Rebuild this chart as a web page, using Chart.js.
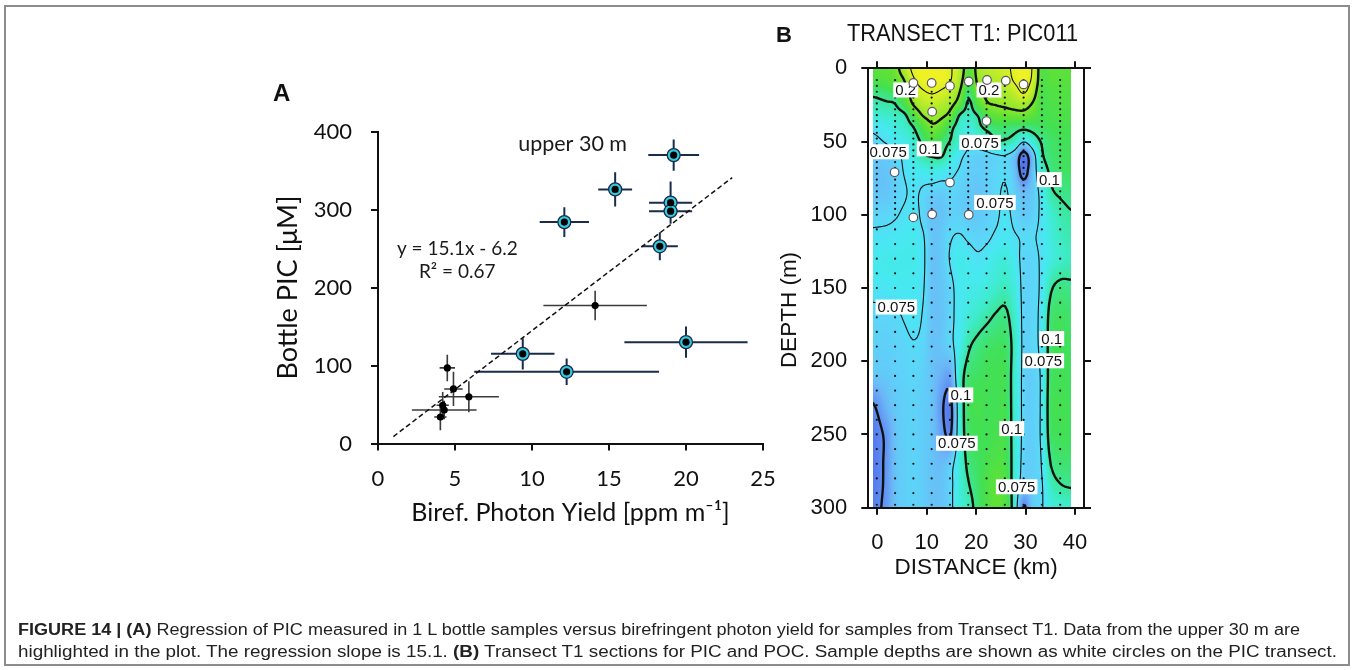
<!DOCTYPE html>
<html>
<head>
<meta charset="utf-8">
<script src="https://cdn.jsdelivr.net/npm/chart.js@4.4.1/dist/chart.umd.min.js"></script>
<style>
  html, body { margin: 0; padding: 0; background: #fff; }
  #page { position: relative; width: 1354px; height: 670px; overflow: hidden; background: #fff; }
  #page canvas { position: absolute; left: 0; top: 0; }
  .frame { position: absolute; left: 4px; top: 5px; width: 1346px; height: 661px; border: 2px solid #8c8c8c; box-sizing: border-box; }
  .letter { position: absolute; font-family: "Liberation Sans", Arial, sans-serif; font-weight: bold; color: #111; }
  .fit { position: absolute; white-space: nowrap; transform-origin: 0 50%; color: #111; }
  .caption { font-family: "Liberation Sans Narrow", "Liberation Sans", Arial, sans-serif; font-size: 16px; line-height: 16px; color: #222; left: 18px; }
  .title-b { font-family: "Liberation Sans", Arial, sans-serif; font-size: 23px; line-height: 23px; left: 847px; top: 22px; }
  .ytitle-b { position: absolute; width: 200px; text-align: center; font-family: "Liberation Sans", Arial, sans-serif; font-size: 22.5px; line-height: 24px; color: #111; transform: rotate(-90deg); }
</style>
</head>
<body>
<div id="page">
  <div class="frame"></div>
  <canvas id="chartA" width="1354" height="670"></canvas>
  <canvas id="chartB" width="1354" height="670"></canvas>
  <div class="letter" style="left:273px; top:81px; font-size:24px; line-height:24px;">A</div>
  <div class="letter" style="left:776px; top:24px; font-size:22px; line-height:22px;">B</div>
  <div class="fit title-b" data-width="231">TRANSECT T1: PIC011</div>
  <div class="ytitle-b" style="left:689px; top:298px;">DEPTH (m)</div>
  <div class="fit caption" data-width="1282" style="top:622px;"><b>FIGURE 14 | (A)</b> Regression of PIC measured in 1 L bottle samples versus birefringent photon yield for samples from Transect T1. Data from the upper 30 m are</div>
  <div class="fit caption" data-width="1319" style="top:644px;">highlighted in the plot. The regression slope is 15.1. <b>(B)</b> Transect T1 sections for PIC and POC. Sample depths are shown as white circles on the PIC transect.</div>
</div>

<script>
// ---------- Panel A: bottle PIC vs birefringent photon yield ----------
const yieldTicks = [0, 5, 10, 15, 20, 25];
const picTicks = [0, 100, 200, 300, 400];

// samples from the upper 30 m (highlighted)
const upperYield    = [19.2, 15.4, 19.0, 19.0, 12.1, 18.3, 20.0, 9.4, 12.25];
const upperPIC      = [370, 326, 309, 298, 284, 253, 130, 115, 92];
const upperYieldErr = [1.65, 1.1, 1.4, 1.4, 1.6, 1.17, 4.0, 2.06, 6.0];
const upperPICErr   = [20, 22, 27, 16, 19, 18, 20, 20, 17];

// deeper samples
const deepYield    = [14.1, 4.5, 4.9, 5.9, 4.2, 4.3, 4.05];
const deepPIC      = [177, 97, 70, 60, 49, 43, 34];
const deepYieldErr = [3.36, 0.5, 0.6, 1.95, 0.4, 2.1, 0.4];
const deepPICErr   = [19, 17, 22, 20, 17, 12, 17];

// regression y = 15.1x - 6.2 over the fitted range
const fitSlope = 15.1;
const fitIntercept = -6.2;
const fitRange = [1, 23];

// ---------- Panel B: PIC section along transect T1 ----------
const distTicks = [0, 10, 20, 30, 40];
const depthTicks = [0, 50, 100, 150, 200, 250, 300];

// gridded PIC section (rows: depth, columns: distance)
const fieldDist  = [-0.9, 1.85, 3.7, 5.55, 7.4, 9.25, 11.1, 12.95, 14.8, 16.65, 18.5, 20.35, 22.2, 24.05, 25.9, 27.75, 29.6, 31.45, 33.3, 35.15, 37, 39.1];
const fieldDepth = [0, 8, 16, 24, 32, 40, 50, 60, 70, 85, 100, 115, 130, 150, 170, 190, 210, 230, 250, 270, 285, 300];
const picField = [
  [0.130, 0.135, 0.142, 0.170, 0.215, 0.235, 0.240, 0.235, 0.205, 0.175, 0.130, 0.160, 0.175, 0.180, 0.190, 0.210, 0.235, 0.195, 0.128, 0.132, 0.132, 0.132],
  [0.122, 0.127, 0.135, 0.152, 0.195, 0.225, 0.230, 0.225, 0.202, 0.165, 0.125, 0.155, 0.165, 0.170, 0.180, 0.205, 0.225, 0.190, 0.126, 0.130, 0.130, 0.130],
  [0.105, 0.110, 0.118, 0.138, 0.170, 0.195, 0.205, 0.195, 0.178, 0.151, 0.108, 0.145, 0.155, 0.158, 0.165, 0.180, 0.205, 0.170, 0.122, 0.125, 0.126, 0.126],
  [0.095, 0.098, 0.101, 0.122, 0.155, 0.172, 0.178, 0.172, 0.160, 0.135, 0.096, 0.128, 0.148, 0.152, 0.155, 0.160, 0.165, 0.148, 0.120, 0.122, 0.124, 0.124],
  [0.088, 0.090, 0.093, 0.097, 0.125, 0.152, 0.160, 0.156, 0.140, 0.099, 0.093, 0.101, 0.125, 0.135, 0.138, 0.140, 0.140, 0.132, 0.118, 0.120, 0.122, 0.122],
  [0.078, 0.082, 0.086, 0.090, 0.101, 0.125, 0.145, 0.135, 0.108, 0.090, 0.085, 0.095, 0.105, 0.110, 0.110, 0.108, 0.106, 0.108, 0.112, 0.115, 0.118, 0.118],
  [0.072, 0.076, 0.080, 0.083, 0.090, 0.105, 0.120, 0.110, 0.099, 0.088, 0.078, 0.082, 0.088, 0.098, 0.098, 0.092, 0.076, 0.088, 0.102, 0.110, 0.113, 0.115],
  [0.068, 0.069, 0.072, 0.078, 0.085, 0.097, 0.101, 0.101, 0.088, 0.078, 0.072, 0.070, 0.071, 0.073, 0.074, 0.066, 0.042, 0.066, 0.097, 0.108, 0.112, 0.114],
  [0.066, 0.067, 0.070, 0.076, 0.080, 0.082, 0.084, 0.082, 0.078, 0.074, 0.070, 0.069, 0.070, 0.072, 0.074, 0.066, 0.042, 0.066, 0.088, 0.104, 0.110, 0.112],
  [0.067, 0.067, 0.070, 0.074, 0.077, 0.073, 0.070, 0.069, 0.072, 0.070, 0.068, 0.067, 0.069, 0.073, 0.076, 0.070, 0.064, 0.068, 0.080, 0.097, 0.102, 0.104],
  [0.072, 0.072, 0.074, 0.077, 0.079, 0.072, 0.066, 0.066, 0.070, 0.070, 0.068, 0.068, 0.070, 0.073, 0.078, 0.072, 0.068, 0.070, 0.078, 0.088, 0.095, 0.099],
  [0.077, 0.078, 0.079, 0.080, 0.081, 0.076, 0.067, 0.068, 0.074, 0.076, 0.073, 0.071, 0.073, 0.077, 0.080, 0.076, 0.074, 0.074, 0.078, 0.086, 0.092, 0.095],
  [0.081, 0.082, 0.082, 0.082, 0.082, 0.077, 0.066, 0.068, 0.076, 0.082, 0.080, 0.077, 0.080, 0.084, 0.086, 0.080, 0.072, 0.072, 0.077, 0.085, 0.090, 0.093],
  [0.078, 0.079, 0.080, 0.080, 0.080, 0.076, 0.066, 0.067, 0.072, 0.080, 0.082, 0.083, 0.086, 0.090, 0.093, 0.085, 0.072, 0.072, 0.078, 0.098, 0.104, 0.103],
  [0.072, 0.072, 0.073, 0.076, 0.079, 0.074, 0.066, 0.066, 0.072, 0.080, 0.087, 0.092, 0.097, 0.102, 0.104, 0.090, 0.072, 0.072, 0.080, 0.108, 0.112, 0.110],
  [0.070, 0.070, 0.071, 0.072, 0.074, 0.072, 0.066, 0.067, 0.072, 0.082, 0.098, 0.105, 0.110, 0.112, 0.112, 0.093, 0.072, 0.072, 0.080, 0.110, 0.115, 0.112],
  [0.067, 0.068, 0.070, 0.071, 0.072, 0.070, 0.066, 0.060, 0.058, 0.090, 0.108, 0.112, 0.115, 0.115, 0.115, 0.090, 0.072, 0.070, 0.078, 0.110, 0.115, 0.113],
  [0.049, 0.062, 0.068, 0.070, 0.071, 0.069, 0.066, 0.053, 0.046, 0.086, 0.112, 0.118, 0.115, 0.115, 0.116, 0.090, 0.072, 0.070, 0.078, 0.112, 0.116, 0.114],
  [0.043, 0.053, 0.066, 0.070, 0.071, 0.069, 0.066, 0.056, 0.049, 0.086, 0.110, 0.115, 0.115, 0.118, 0.118, 0.090, 0.072, 0.070, 0.078, 0.110, 0.114, 0.114],
  [0.042, 0.053, 0.066, 0.070, 0.071, 0.069, 0.066, 0.064, 0.070, 0.086, 0.105, 0.112, 0.118, 0.125, 0.120, 0.090, 0.071, 0.070, 0.076, 0.101, 0.108, 0.108],
  [0.043, 0.053, 0.066, 0.070, 0.071, 0.069, 0.066, 0.066, 0.072, 0.086, 0.099, 0.110, 0.122, 0.132, 0.125, 0.088, 0.068, 0.070, 0.074, 0.092, 0.099, 0.101],
  [0.045, 0.054, 0.066, 0.070, 0.071, 0.069, 0.066, 0.066, 0.072, 0.086, 0.093, 0.108, 0.122, 0.135, 0.125, 0.088, 0.049, 0.068, 0.074, 0.085, 0.088, 0.090]
];

const contourLevels = [0.05, 0.075, 0.1, 0.15, 0.2];

// profile stations and their sampling depths
const stationDist = [-0.1, 3.6, 7.3, 11.0, 14.7, 18.4, 22.1, 25.8, 29.6, 33.3, 37.0];
const profileDepths = [8, 12, 16, 20, 24, 28, 32, 36, 40, 44, 48, 52, 56, 60, 64, 68, 72, 76, 80, 84, 88, 92, 96, 100,
                       110, 120, 130, 140, 150, 160, 170, 180, 190, 200, 210, 220, 230, 240, 250, 260, 270, 280, 290, 298];

// bottle sample positions
const bottleDist  = [7.3, 11.0, 14.7, 18.5, 22.2, 26.0, 29.6, 11.1, 22.1, 3.5, 14.7, 7.3, 11.1, 18.5];
const bottleDepth = [10, 10, 12, 9, 8, 8.5, 11, 29.6, 36, 71, 78, 101.8, 99.7, 100];

// contour label placements
const contourLabels = [
  { level: 0.2,   dist: 5.75, depth: 14.8 },
  { level: 0.2,   dist: 22.6, depth: 14.8 },
  { level: 0.075, dist: 2.2,  depth: 57 },
  { level: 0.1,   dist: 10.5, depth: 55 },
  { level: 0.075, dist: 20.8, depth: 50.6 },
  { level: 0.1,   dist: 34.8, depth: 76 },
  { level: 0.075, dist: 23.8, depth: 91.6 },
  { level: 0.075, dist: 3.85, depth: 163 },
  { level: 0.1,   dist: 35.3, depth: 184.5 },
  { level: 0.075, dist: 33.6, depth: 199.7 },
  { level: 0.1,   dist: 16.9, depth: 223 },
  { level: 0.075, dist: 16.1, depth: 256 },
  { level: 0.1,   dist: 27.2, depth: 246 },
  { level: 0.075, dist: 28.2, depth: 285.7 }
];

// ---------- helpers ----------
const zip = (xs, ys) => xs.map((v, i) => ({ x: v, y: ys[i] }));

function fracIndex(arr, v) {
  const n = arr.length - 1;
  if (v <= arr[0]) return 0;
  if (v >= arr[n]) return n;
  let i = 0;
  while (i < n - 1 && v > arr[i + 1]) i++;
  return i + (v - arr[i]) / (arr[i + 1] - arr[i]);
}
function catmull(p0, p1, p2, p3, t) {
  return 0.5 * (2 * p1 + (-p0 + p2) * t + (2 * p0 - 5 * p1 + 4 * p2 - p3) * t * t + (-p0 + 3 * p1 - 3 * p2 + p3) * t * t * t);
}
function fieldAt(fx, fy) {
  const nx = fieldDist.length, ny = fieldDepth.length;
  const i = Math.min(Math.floor(fx), nx - 2), j = Math.min(Math.floor(fy), ny - 2);
  const tx = fx - i, ty = fy - j;
  const c = k => Math.max(0, Math.min(nx - 1, k));
  const r = k => Math.max(0, Math.min(ny - 1, k));
  const rows = [];
  for (let m = -1; m <= 2; m++) {
    const R = picField[r(j + m)];
    rows.push(catmull(R[c(i - 1)], R[c(i)], R[c(i + 1)], R[c(i + 2)], tx));
  }
  return catmull(rows[0], rows[1], rows[2], rows[3], ty);
}

// blue -> cyan -> green -> yellow palette
const palette = [
  [0.040,  82, 116, 236],
  [0.050,  94, 142, 242],
  [0.062, 108, 182, 247],
  [0.072,  92, 214, 248],
  [0.080,  72, 232, 242],
  [0.090,  62, 236, 204],
  [0.100,  60, 230, 150],
  [0.115,  66, 224,  84],
  [0.135,  96, 226,  52],
  [0.155, 150, 232,  46],
  [0.185, 206, 238,  40],
  [0.225, 238, 242,  36]
];
function colourFor(v) {
  if (v <= palette[0][0]) return palette[0].slice(1);
  const last = palette[palette.length - 1];
  if (v >= last[0]) return last.slice(1);
  for (let k = 0; k < palette.length - 1; k++) {
    const a = palette[k], b = palette[k + 1];
    if (v <= b[0]) {
      const t = (v - a[0]) / (b[0] - a[0]);
      return [a[1] + (b[1] - a[1]) * t, a[2] + (b[2] - a[2]) * t, a[3] + (b[3] - a[3]) * t];
    }
  }
  return last.slice(1);
}

function pinTicks(values) {
  return axis => { axis.ticks = values.map(v => ({ value: v })); };
}

// ---------- plugins ----------
const errorBarPlugin = {
  id: 'errorBars',
  beforeDatasetsDraw(chart) {
    const { ctx, scales: { x, y } } = chart;
    const draw = (xs, ys, xe, ye, colour, width) => {
      ctx.strokeStyle = colour;
      ctx.lineWidth = width;
      ctx.beginPath();
      xs.forEach((xv, i) => {
        const px = x.getPixelForValue(xv), py = y.getPixelForValue(ys[i]);
        ctx.moveTo(x.getPixelForValue(xv - xe[i]), py);
        ctx.lineTo(x.getPixelForValue(xv + xe[i]), py);
        ctx.moveTo(px, y.getPixelForValue(ys[i] - ye[i]));
        ctx.lineTo(px, y.getPixelForValue(ys[i] + ye[i]));
      });
      ctx.stroke();
    };
    ctx.save();
    draw(deepYield, deepPIC, deepYieldErr, deepPICErr, '#3b3b3b', 1.6);
    draw(upperYield, upperPIC, upperYieldErr, upperPICErr, '#1b2c4a', 2);
    ctx.restore();
  },
  afterDatasetsDraw(chart) {
    const { ctx, scales: { x, y } } = chart;
    ctx.save();
    ctx.fillStyle = '#1a1a1a';
    ctx.textAlign = 'left';
    ctx.textBaseline = 'middle';
    ctx.font = '21.5px Lato, "Open Sans", sans-serif';
    ctx.fillText('upper 30 m', x.getPixelForValue(9.1), y.getPixelForValue(384.5));
    ctx.font = '19px Lato, "Open Sans", sans-serif';
    ctx.fillText('y = 15.1x - 6.2', x.getPixelForValue(1.23), y.getPixelForValue(249.7));
    ctx.fillText('R² = 0.67', x.getPixelForValue(2.66), y.getPixelForValue(220));
    ctx.restore();
  }
};

const sectionPlugin = {
  id: 'picSection',
  beforeDatasetsDraw(chart) {
    const { ctx, scales: { x, y } } = chart;
    const left = Math.round(x.getPixelForValue(fieldDist[0]));
    const right = Math.round(x.getPixelForValue(fieldDist[fieldDist.length - 1]));
    const top = Math.round(y.getPixelForValue(fieldDepth[0]));
    const bottom = Math.round(y.getPixelForValue(fieldDepth[fieldDepth.length - 1]));
    const w = right - left, h = bottom - top;

    // colour field
    const fx = new Float64Array(w), fy = new Float64Array(h);
    for (let i = 0; i < w; i++) fx[i] = fracIndex(fieldDist, x.getValueForPixel(left + i + 0.5));
    for (let j = 0; j < h; j++) fy[j] = fracIndex(fieldDepth, y.getValueForPixel(top + j + 0.5));
    const off = document.createElement('canvas');
    off.width = w; off.height = h;
    const octx = off.getContext('2d');
    const img = octx.createImageData(w, h);
    for (let j = 0; j < h; j++) {
      for (let i = 0; i < w; i++) {
        const c = colourFor(fieldAt(fx[i], fy[j]));
        const k = (j * w + i) * 4;
        img.data[k] = c[0]; img.data[k + 1] = c[1]; img.data[k + 2] = c[2]; img.data[k + 3] = 255;
      }
    }
    octx.putImageData(img, 0, 0);
    ctx.save();
    ctx.drawImage(off, left, top);

    // contour lines (marching squares on a fine sampling of the field)
    const step = 2;
    const nx = Math.ceil(w / step) + 1, ny = Math.ceil(h / step) + 1;
    const gx = i => left + Math.min(i * step, w);
    const gy = j => top + Math.min(j * step, h);
    const V = new Float64Array(nx * ny);
    for (let j = 0; j < ny; j++) {
      const fyv = fracIndex(fieldDepth, y.getValueForPixel(gy(j)));
      for (let i = 0; i < nx; i++) V[j * nx + i] = fieldAt(fracIndex(fieldDist, x.getValueForPixel(gx(i))), fyv);
    }
    ctx.beginPath();
    ctx.rect(left, top, w, h);
    ctx.clip();
    ctx.strokeStyle = '#111';
    ctx.lineCap = 'round';
    ctx.lineJoin = 'round';
    const majorLevels = [0.05, 0.1, 0.15];
    contourLevels.forEach(L => {
      ctx.lineWidth = majorLevels.includes(L) ? 2.4 : 1.1;
      ctx.beginPath();
      const seg = (p, q) => { ctx.moveTo(p[0], p[1]); ctx.lineTo(q[0], q[1]); };
      for (let j = 0; j < ny - 1; j++) {
        for (let i = 0; i < nx - 1; i++) {
          const a = V[j * nx + i], b = V[j * nx + i + 1], c = V[(j + 1) * nx + i + 1], d = V[(j + 1) * nx + i];
          const code = (a >= L ? 8 : 0) | (b >= L ? 4 : 0) | (c >= L ? 2 : 0) | (d >= L ? 1 : 0);
          if (code === 0 || code === 15) continue;
          const x0 = gx(i), x1 = gx(i + 1), y0 = gy(j), y1 = gy(j + 1);
          const T = () => [x0 + (x1 - x0) * (L - a) / (b - a), y0];
          const R = () => [x1, y0 + (y1 - y0) * (L - b) / (c - b)];
          const B = () => [x0 + (x1 - x0) * (L - d) / (c - d), y1];
          const Lt = () => [x0, y0 + (y1 - y0) * (L - a) / (d - a)];
          switch (code) {
            case 1: case 14: seg(Lt(), B()); break;
            case 2: case 13: seg(B(), R()); break;
            case 3: case 12: seg(Lt(), R()); break;
            case 4: case 11: seg(T(), R()); break;
            case 6: case 9: seg(T(), B()); break;
            case 7: case 8: seg(Lt(), T()); break;
            case 5: {
              const m = (a + b + c + d) / 4;
              if (m >= L) { seg(Lt(), T()); seg(B(), R()); } else { seg(T(), R()); seg(Lt(), B()); }
              break;
            }
            case 10: {
              const m = (a + b + c + d) / 4;
              if (m >= L) { seg(T(), R()); seg(Lt(), B()); } else { seg(Lt(), T()); seg(B(), R()); }
              break;
            }
          }
        }
      }
      ctx.stroke();
    });
    ctx.restore();
  },
  afterDatasetDraw(chart, args) {
    if (args.index !== 0) return;
    const { ctx, scales: { x, y } } = chart;
    ctx.save();
    ctx.font = '15px "Liberation Sans", Arial, sans-serif';
    ctx.textAlign = 'center';
    ctx.textBaseline = 'middle';
    contourLabels.forEach(l => {
      const px = x.getPixelForValue(l.dist), py = y.getPixelForValue(l.depth);
      const text = String(l.level);
      const bw = ctx.measureText(text).width + 4, bh = 15;
      ctx.fillStyle = '#fff';
      ctx.fillRect(px - bw / 2, py - bh / 2, bw, bh);
      ctx.fillStyle = '#111';
      ctx.fillText(text, px, py + 1);
    });
    ctx.restore();
  }
};

// ---------- charts ----------
function axisStyle(extra) {
  return Object.assign({
    grid: { display: true, drawOnChartArea: false, drawTicks: true, tickLength: 7, tickWidth: 2, tickColor: '#111', color: '#111', lineWidth: 2 },
    border: { display: true, color: '#111', width: 2, z: 1 }
  }, extra);
}

function buildCharts() {
  Chart.defaults.color = '#111';

  const fitPoints = fitRange.map(v => ({ x: v, y: fitSlope * v + fitIntercept }));
  const upperPoints = zip(upperYield, upperPIC);
  const allPoints = upperPoints.concat(zip(deepYield, deepPIC));

  new Chart(document.getElementById('chartA'), {
    type: 'scatter',
    data: {
      datasets: [
        { label: 'regression', data: fitPoints, showLine: true, borderColor: '#111', borderWidth: 1.5, borderDash: [5, 3], pointRadius: 0, fill: false, order: 3 },
        { label: 'upper 30 m', data: upperPoints, pointRadius: 6.5, pointBackgroundColor: '#36c8dc', pointBorderColor: '#1b2c4a', pointBorderWidth: 1.3, order: 2 },
        { label: 'samples', data: allPoints, pointRadius: 3.6, pointBackgroundColor: '#000', pointBorderColor: '#000', pointBorderWidth: 0, order: 1 }
      ]
    },
    options: {
      responsive: false, animation: false, devicePixelRatio: 1, events: [],
      layout: { padding: { left: 258, right: 591, top: 131.7, bottom: 131.5 } },
      plugins: { legend: { display: false }, tooltip: { enabled: false } },
      scales: {
        x: axisStyle({
          type: 'linear', min: 0, max: 25,
          afterBuildTicks: pinTicks(yieldTicks),
          afterFit: s => { s.height = 95; },
          ticks: { padding: 15, color: '#111', font: { family: 'Lato', size: 22 } },
          title: { display: true, text: 'Biref. Photon Yield [ppm m⁻¹]', color: '#111', font: { family: 'Lato', size: 25 }, padding: { top: 0, bottom: 11 } }
        }),
        y: axisStyle({
          type: 'linear', min: 0, max: 400,
          afterBuildTicks: pinTicks(picTicks),
          afterFit: s => { s.width = 120; },
          ticks: { padding: 19, color: '#111', font: { family: 'Lato', size: 22 } },
          title: { display: true, text: 'Bottle PIC [μM]', color: '#111', font: { family: 'Lato', size: 27 }, padding: { top: 14, bottom: 0 } }
        })
      }
    },
    plugins: [errorBarPlugin]
  });

  const profilePoints = [];
  stationDist.forEach(d => profileDepths.forEach(z => profilePoints.push({ x: d, y: z })));

  const hidden = { display: false };
  new Chart(document.getElementById('chartB'), {
    type: 'scatter',
    data: {
      datasets: [
        { label: 'profile samples', data: profilePoints, pointRadius: 1.1, pointBackgroundColor: '#111', pointBorderWidth: 0, order: 2 },
        { label: 'bottle samples', data: zip(bottleDist, bottleDepth), pointRadius: 4.3, pointBackgroundColor: '#fff', pointBorderColor: '#5e5864', pointBorderWidth: 1.2, order: 1 }
      ]
    },
    options: {
      responsive: false, animation: false, devicePixelRatio: 1, events: [],
      layout: { padding: { left: 788.3, right: 260, top: 58.3, bottom: 87.3 } },
      plugins: { legend: { display: false }, tooltip: { enabled: false } },
      scales: {
        x: axisStyle({
          type: 'linear', position: 'bottom', min: -1.82, max: 41.82,
          afterBuildTicks: pinTicks(distTicks),
          afterFit: s => { s.height = 75; },
          ticks: { padding: 15, color: '#111', font: { family: '"Liberation Sans", Arial, sans-serif', size: 22 } },
          title: { display: true, text: 'DISTANCE (km)', color: '#111', font: { family: '"Liberation Sans", Arial, sans-serif', size: 22.5 }, padding: { top: 0, bottom: 1.5 } }
        }),
        x2: axisStyle({
          type: 'linear', axis: 'x', position: 'top', min: -1.82, max: 41.82,
          afterBuildTicks: pinTicks(distTicks),
          afterFit: s => { s.height = 10; },
          ticks: hidden
        }),
        y: axisStyle({
          type: 'linear', position: 'left', reverse: true, min: 0, max: 300,
          afterBuildTicks: pinTicks(depthTicks),
          afterFit: s => { s.width = 80; },
          ticks: { padding: 14, color: '#111', font: { family: '"Liberation Sans", Arial, sans-serif', size: 22 } }
        }),
        y2: axisStyle({
          type: 'linear', axis: 'y', position: 'right', reverse: true, min: 0, max: 300,
          afterBuildTicks: pinTicks(depthTicks),
          afterFit: s => { s.width = 10; },
          ticks: hidden
        })
      }
    },
    plugins: [sectionPlugin]
  });

  document.querySelectorAll('.fit').forEach(el => {
    const target = parseFloat(el.dataset.width);
    const w = el.getBoundingClientRect().width;
    if (w > 0) el.style.transform = 'scaleX(' + (target / w) + ')';
  });
}

const fontsToLoad = ['22px Lato', '15px "Liberation Sans"', 'bold 16px "Liberation Sans"', '16px "Liberation Sans Narrow"'];
Promise.all(fontsToLoad.map(f => document.fonts.load(f).catch(() => null)))
  .then(() => document.fonts.ready)
  .then(buildCharts, buildCharts);
</script>
</body>
</html>
